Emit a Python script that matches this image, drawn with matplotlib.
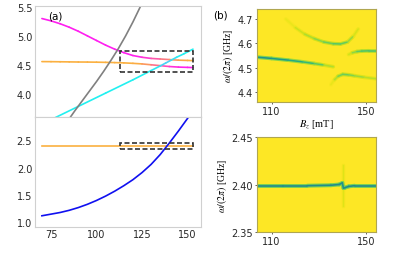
import matplotlib
matplotlib.use("Agg")
import matplotlib.pyplot as plt
import numpy as np
from matplotlib.collections import LineCollection
from matplotlib.colors import to_rgb
from matplotlib.patches import Rectangle

plt.rcParams["font.size"] = 7
plt.rcParams["mathtext.fontset"] = "stix"

# ── panel (a): mode frequencies vs B_z (GHz) ────────────────────────────────
# hybridised magnon / photon branches in the upper window
mix_B = [70, 75, 80, 85, 90, 95, 100, 105, 110, 115, 120, 125, 130, 135, 140, 145, 150, 153]
upper_f = [5.30, 5.26, 5.21, 5.15, 5.08, 5.00, 4.92, 4.84, 4.77, 4.71, 4.66, 4.63,
           4.61, 4.60, 4.59, 4.58, 4.575, 4.572]
upper_frac = [0, 0, 0, 0, 0, 0, 0, 0, 0, 0, 0, 0.05, 0.3, 0.5, 0.75, 0.9, 1, 1]   # magenta -> orange
lower_f = [4.555, 4.554, 4.552, 4.550, 4.548, 4.547, 4.545, 4.542, 4.538, 4.533,
           4.525, 4.515, 4.50, 4.485, 4.47, 4.46, 4.455, 4.452]
lower_frac = [0, 0, 0, 0, 0, 0, 0, 0, 0, 0, 0, 0.05, 0.3, 0.55, 0.8, 0.95, 1, 1]  # orange -> magenta

cyan_B = [75, 90, 105, 120, 130, 135, 138, 141, 144, 148, 153]
cyan_f = [3.55, 3.78, 4.01, 4.24, 4.40, 4.48, 4.53, 4.58, 4.63, 4.69, 4.77]
cyan_frac = [0, 0, 0, 0, 0, 0.2, 0.45, 0.35, 0.1, 0, 0]   # cyan -> lavender

gray_B = [84, 88, 92, 96, 100, 104, 108, 112, 116, 120, 124, 126]
gray_f = [3.52, 3.70, 3.87, 4.04, 4.21, 4.39, 4.58, 4.78, 5.00, 5.24, 5.50, 5.63]

# lower window
blue_B = [70, 75, 80, 85, 90, 95, 100, 105, 110, 115, 120, 125, 130, 135, 140, 145, 150, 152]
blue_f = [1.12, 1.15, 1.18, 1.22, 1.27, 1.33, 1.40, 1.48, 1.57, 1.67, 1.78, 1.91,
          2.06, 2.24, 2.45, 2.67, 2.90, 2.99]
flat_B = [70, 153]
flat_f = [2.40, 2.40]

box_B = (113, 153)
box_upper = (4.37, 4.74)
box_lower = (2.35, 2.45)

# ── panel (b): ridges of the transmission maps (strength 0..1) ──────────────
r1_B = [104, 110, 117, 123, 128, 132, 136]
r1_f = [4.544, 4.539, 4.532, 4.525, 4.518, 4.512, 4.505]
r1_s = [0.5, 0.48, 0.42, 0.36, 0.3, 0.2, 0.04]

r2_B = [116, 120, 124, 128, 132, 136, 139, 142, 144.5, 146.5]
r2_f = [4.70, 4.665, 4.638, 4.620, 4.606, 4.599, 4.598, 4.606, 4.630, 4.659]
r2_s = [0.01, 0.05, 0.1, 0.15, 0.2, 0.25, 0.27, 0.2, 0.1, 0.02]

r3_B = [142.5, 144, 146, 148, 151, 154]
r3_f = [4.555, 4.562, 4.567, 4.569, 4.570, 4.570]
r3_s = [0.02, 0.12, 0.22, 0.27, 0.29, 0.29]

r4_B = [135, 136.5, 138, 140, 142.5, 145, 149, 154]
r4_f = [4.432, 4.452, 4.466, 4.474, 4.472, 4.468, 4.462, 4.456]
r4_s = [0.01, 0.06, 0.17, 0.24, 0.21, 0.17, 0.12, 0.09]

r5_B = [104, 115, 125, 135, 138.5, 139.8, 140.3, 141, 142.5, 145, 154]
r5_f = [2.399, 2.399, 2.399, 2.3995, 2.4003, 2.402, 2.3965, 2.397, 2.3983, 2.399, 2.399]
r5_s = [0.52, 0.52, 0.52, 0.52, 0.52, 0.5, 0.5, 0.5, 0.52, 0.52, 0.52]

r6_B = [140.2, 140.2, 140.2]
r6_f = [2.378, 2.400, 2.421]
r6_s = [0.0, 0.1, 0.0]


def grad_line(ax, x, y, frac, c0, c1, lw=1.2):
    pts = np.column_stack([x, y])
    segs = np.stack([pts[:-1], pts[1:]], axis=1)
    f = (np.asarray(frac[:-1]) + np.asarray(frac[1:])) / 2
    a, b = np.array(to_rgb(c0)), np.array(to_rgb(c1))
    cols = a[None] * (1 - f[:, None]) + b[None] * f[:, None]
    ax.add_collection(LineCollection(segs, colors=cols, linewidths=lw,
                                     capstyle="round", joinstyle="round"))


def ridge(ax, x, y, s, lw=1.1):
    cmap = plt.get_cmap("viridis")
    pts = np.column_stack([x, y])
    segs = np.stack([pts[:-1], pts[1:]], axis=1)
    sm = (np.asarray(s[:-1]) + np.asarray(s[1:])) / 2
    ax.add_collection(LineCollection(segs, colors=cmap(1 - 0.4 * sm), linewidths=lw + 1.6,
                                     capstyle="round"))
    ax.add_collection(LineCollection(segs, colors=cmap(1 - sm), linewidths=lw,
                                     capstyle="round"))


fig = plt.figure(figsize=(4.15, 2.55), dpi=100)
ax_t = fig.add_axes([0.0843, 0.538, 0.400, 0.433])
ax_b = fig.add_axes([0.0843, 0.107, 0.400, 0.431])
ax_rt = fig.add_axes([0.620, 0.597, 0.286, 0.364])
ax_rb = fig.add_axes([0.620, 0.085, 0.286, 0.373])

magenta, orange, cyan = "#ff1ff0", "#fbb040", "#22f0f0"

grad_line(ax_t, mix_B, upper_f, upper_frac, magenta, orange)
grad_line(ax_t, mix_B, lower_f, lower_frac, orange, magenta)
grad_line(ax_t, cyan_B, cyan_f, cyan_frac, cyan, "#90a0ff")
ax_t.plot(gray_B, gray_f, color="#808080", lw=1.2)
ax_t.add_patch(Rectangle((box_B[0], box_upper[0]), box_B[1] - box_B[0],
                         box_upper[1] - box_upper[0], fill=False,
                         ls=(0, (3, 1.5)), lw=1.2, ec="#333333", zorder=5))

ax_b.plot(flat_B, flat_f, color=orange, lw=1.2)
ax_b.plot(blue_B, blue_f, color="#1010f0", lw=1.2)
ax_b.add_patch(Rectangle((box_B[0], box_lower[0]), box_B[1] - box_B[0],
                         box_lower[1] - box_lower[0], fill=False,
                         ls=(0, (3, 1.5)), lw=1.2, ec="#333333", zorder=5))

for ax in (ax_t, ax_b):
    ax.set_xlim(66.2, 157.4)
    for sp in ax.spines.values():
        sp.set_color("#d0d0d0")
        sp.set_linewidth(0.8)
    ax.tick_params(length=0, pad=2, labelsize=7, colors="#262626")
ax_t.set_ylim(3.6, 5.51)
ax_t.set_yticks([4.0, 4.5, 5.0, 5.5])
ax_t.set_xticks([])
ax_b.set_ylim(0.92, 2.93)
ax_b.set_yticks([1.0, 1.5, 2.0, 2.5])
ax_b.set_xticks([75, 100, 125, 150])
ax_t.text(0.078, 0.92, "(a)", transform=ax_t.transAxes, fontsize=7.5, va="center")

# ── panel (b) ──
bg = plt.get_cmap("viridis")(1.0)
for r in ((r1_B, r1_f, r1_s), (r2_B, r2_f, r2_s), (r3_B, r3_f, r3_s), (r4_B, r4_f, r4_s)):
    ridge(ax_rt, *r)
ridge(ax_rb, r6_B, r6_f, r6_s, lw=0.8)
ridge(ax_rb, r5_B, r5_f, r5_s, lw=1.2)

serif = ["Liberation Serif", "DejaVu Serif"]
for ax in (ax_rt, ax_rb):
    ax.set_facecolor(bg)
    ax.set_xlim(104, 154)
    ax.set_xticks([110, 150])
    for sp in ax.spines.values():
        sp.set_color("#b0a650")
        sp.set_linewidth(0.8)
    ax.tick_params(length=1.5, width=0.5, pad=1.5, labelsize=7, colors="#262626")
    ax.set_ylabel(r"$\omega/(2\pi)$ [GHz]", family=serif, fontsize=7, labelpad=2)
ax_rt.set_ylim(4.362, 4.741)
ax_rt.set_yticks([4.4, 4.5, 4.6, 4.7])
ax_rt.set_xlabel(r"$B_z$ [mT]", family=serif, fontsize=7.5, labelpad=1)
ax_rb.set_ylim(2.35, 2.45)
ax_rb.set_yticks([2.35, 2.40, 2.45])
fig.text(0.513, 0.941, "(b)", fontsize=7.5, va="center")

fig.savefig("out.png", dpi=100)
